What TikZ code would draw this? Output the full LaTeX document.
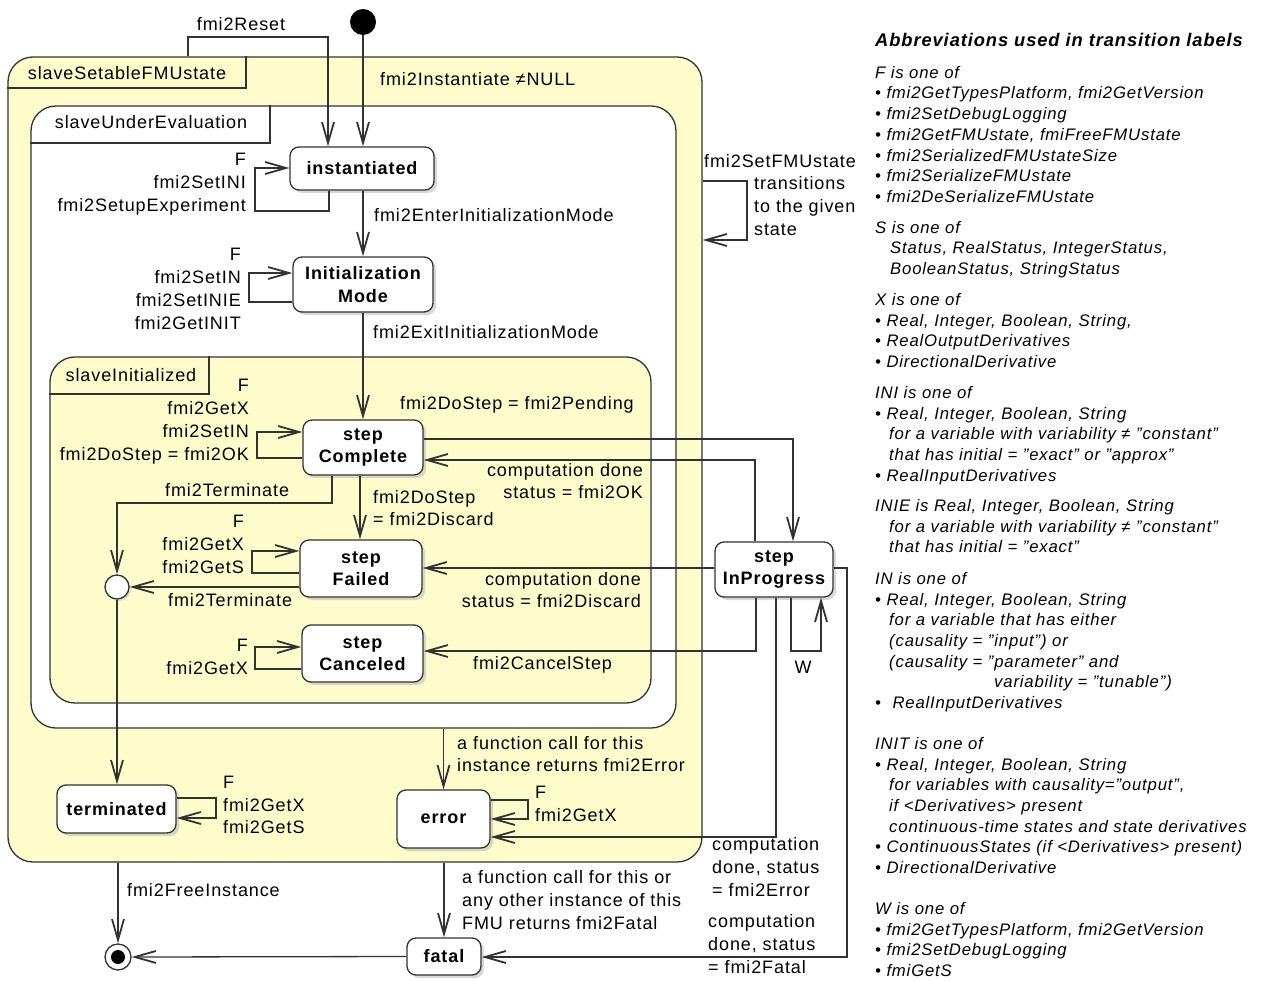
\documentclass[tikz,border=0pt]{standalone}
\usepackage{fontspec}
\setmainfont{Liberation Sans}[LetterSpace=5]
\usetikzlibrary{arrows.meta,shadows}
\definecolor{stylw}{RGB}{255,252,204}
\definecolor{lc}{RGB}{50,50,50}
\begin{document}
\begin{tikzpicture}[x=1pt,y=-1pt,
 lb/.style={font=\fontsize{18}{22.8}\selectfont, inner sep=0pt},
 st/.style={draw=lc, line width=1.3pt, rounded corners=9pt, fill=white, align=center, inner sep=0pt,
   font=\bfseries\fontsize{18}{22.5}\selectfont, drop shadow={shadow xshift=3pt, shadow yshift=-3pt, fill=black!30}},
 comp/.style={draw=lc, line width=1.3pt, rounded corners=25pt, inner sep=0pt},
 tr/.style={draw=lc, line width=1.3pt, -{Straight Barb[length=21pt,width=12pt,line width=1.8pt]}},
 cline/.style={draw=lc, line width=1.3pt},
 ab/.style={anchor=north west, align=left, inner sep=0pt, font=\itshape\fontsize{16.7}{20.7}\selectfont}
]
\useasboundingbox (0,0) rectangle (1265,981);

% composite states
\node[comp, fill=stylw, minimum width=694pt, minimum height=805pt] (sse) at (355,459.5) {};
\node[comp, fill=white, minimum width=645pt, minimum height=622pt] (sue) at (353.5,417) {};
\node[comp, fill=stylw, minimum width=601pt, minimum height=346pt] (sin) at (350.5,530) {};
\coordinate (tab1) at (246,88);
\coordinate (tab2) at (270,143);
\coordinate (tab3) at (209,394);
\draw[cline] (tab1 -| sse.west) -- (tab1) -- (tab1 |- sse.north);
\draw[cline] (tab2 -| sue.west) -- (tab2) -- (tab2 |- sue.north);
\draw[cline] (tab3 -| sin.west) -- (tab3) -- (tab3 |- sin.north);
\node[lb] (tsse) at (127,73) {slaveSetableFMUstate};
\node[lb] (tsue) at (151,122) {slaveUnderEvaluation};
\node[lb] (tsin) at (131,375) {slaveInitialized};

% simple states
\node[st, minimum width=144pt, minimum height=43pt] (inst) at (362,168.5) {instantiated};
\node[st, minimum width=140pt, minimum height=55pt] (initm) at (363,284.5) {Initialization\\Mode};
\node[st, minimum width=120pt, minimum height=55pt] (sc) at (363,447.5) {step\\Complete};
\node[st, minimum width=122pt, minimum height=57pt] (sf) at (361,568.5) {step\\Failed};
\node[st, minimum width=121pt, minimum height=57pt] (scan) at (362.5,653.5) {step\\Canceled};
\node[st, minimum width=118pt, minimum height=55pt] (sip) at (774,569.5) {step\\InProgress};
\node[st, minimum width=119pt, minimum height=48pt] (term) at (116.5,809) {terminated};
\node[st, minimum width=93pt, minimum height=58pt] (err) at (443.5,819) {error};
\node[st, minimum width=74pt, minimum height=37pt] (fatal) at (444,956.5) {fatal};

\node[circle, fill=black, minimum size=26pt, inner sep=0pt] (init) at (363,22) {};
\node[circle, draw=lc, line width=1.3pt, fill=white, minimum size=24pt, inner sep=0pt,
  drop shadow={shadow xshift=2pt, shadow yshift=-2pt, fill=black!25}] (ch) at (117,587) {};
\node[circle, draw=lc, line width=1.3pt, fill=white, minimum size=26pt, inner sep=0pt] (fin) at (118,957) {};
\fill (fin.center) circle (7pt);

% initial
\draw[tr] (init.south) -- (init.south |- inst.north);
\node[lb, anchor=west] (linit) at (380,79) {fmi2Instantiate ≠NULL};

% reset
\coordinate (r1) at (188,37); \coordinate (r2) at (328,37);
\draw[tr] (r1 |- sse.north) -- (r1) -- (r2) -- (r2 |- inst.north);
\node[lb] (lreset) at (241,24) {fmi2Reset};

% instantiated self loop
\coordinate (a1) at (329,211); \coordinate (a2) at (255,168);
\draw[tr] (a1 |- inst.south) -- (a1) -- (a1 -| a2) -- (a2) -- (a2 -| inst.west);
\node[lb, align=right, anchor=east] (linstl) at (246,184) {F\\fmi2SetINI\\fmi2SetupExperiment};

% instantiated -> initialization mode
\draw[tr] (initm.north |- inst.south) -- (initm.north);
\node[lb, anchor=west] (lenter) at (374,215) {fmi2EnterInitializationMode};

% initialization mode self loop
\coordinate (b1) at (249,302); \coordinate (b2) at (249,273);
\draw[tr] (b1 -| initm.west) -- (b1) -- (b2) -- (b2 -| initm.west);
\node[lb, align=right, anchor=east] (linitml) at (241,289) {F\\fmi2SetIN\\fmi2SetINIE\\fmi2GetINIT};

% initialization mode -> step complete
\draw[tr] (sc.north |- initm.south) -- (sc.north);
\node[lb, anchor=west] (lexit) at (373,332) {fmi2ExitInitializationMode};

% step complete self loop
\coordinate (c1) at (257,458); \coordinate (c2) at (257,432);
\draw[tr] (c1 -| sc.west) -- (c1) -- (c2) -- (c2 -| sc.west);
\node[lb, align=right, anchor=east] (lscl) at (249,421.5) {F\\fmi2GetX\\fmi2SetIN\\fmi2DoStep = fmi2OK};

% step complete -> in progress
\coordinate (d1) at (793,439);
\draw[tr] (d1 -| sc.east) -- (d1) -- (d1 |- sip.north);
\node[lb, anchor=west] (lpend) at (400,405) {fmi2DoStep = fmi2Pending};

% in progress -> step complete
\coordinate (d2) at (755,460);
\draw[tr] (d2 |- sip.north) -- (d2) -- (d2 -| sc.east);
\node[lb, align=right, anchor=east] (lok) at (643,481) {computation done\\status = fmi2OK};

% step complete -> step failed
\coordinate (e1) at (360,500);
\draw[tr] (e1 |- sc.south) -- (e1 |- sf.north);
\node[lb, align=left, anchor=west] (ldisc) at (373,508) {fmi2DoStep\\= fmi2Discard};

% step complete -> choice
\coordinate (f1) at (332,503);
\draw[tr] (f1 |- sc.south) -- (f1) -- (f1 -| ch.north) -- (ch.north);
\node[lb, anchor=west] (lterm1) at (165,490) {fmi2Terminate};

% step failed self loop
\coordinate (g1) at (252,573); \coordinate (g2) at (252,551);
\draw[tr] (g1 -| sf.west) -- (g1) -- (g2) -- (g2 -| sf.west);
\node[lb, align=right, anchor=east] (lsfl) at (244,544.5) {F\\fmi2GetX\\fmi2GetS};

% step failed -> choice
\draw[tr] (ch.east -| sf.west) -- (ch.east);
\node[lb, anchor=west] (lterm2) at (168,600) {fmi2Terminate};

% in progress -> step failed
\coordinate (h1) at (600,568);
\draw[tr] (h1 -| sip.west) -- (h1 -| sf.east);
\node[lb, align=right, anchor=east] (ldone2) at (641,590) {computation done\\status = fmi2Discard};

% step canceled self loop
\coordinate (i1) at (255,669); \coordinate (i2) at (255,647);
\draw[tr] (i1 -| scan.west) -- (i1) -- (i2) -- (i2 -| scan.west);
\node[lb, align=right, anchor=east] (lscanl) at (248,656.5) {F\\fmi2GetX};

% in progress -> step canceled
\coordinate (j1) at (756,651);
\draw[tr] (j1 |- sip.south) -- (j1) -- (j1 -| scan.east);
\node[lb, anchor=west] (lcancel) at (473,665) {fmi2CancelStep};

% W loop
\coordinate (k1) at (791,651); \coordinate (k2) at (821,651);
\draw[tr] (k1 |- sip.south) -- (k1) -- (k2) -- (k2 |- sip.south);
\node[lb] (lw) at (803,667) {W};

% in progress -> error
\coordinate (m1) at (776,837);
\draw[tr] (m1 |- sip.south) -- (m1) -- (m1 -| err.east);
\node[lb, align=left, anchor=west] (lerrd) at (712,867) {computation\\done, status\\= fmi2Error};

% in progress -> fatal
\coordinate (n1) at (847,568); \coordinate (n2) at (847,957);
\draw[tr] (n1 -| sip.east) -- (n1) -- (n2) -- (n2 -| fatal.east);
\node[lb, align=left, anchor=west] (lfatd) at (708,944) {computation\\done, status\\= fmi2Fatal};

% error self loop
\coordinate (o1) at (528,800); \coordinate (o2) at (528,819);
\draw[tr] (o1 -| err.east) -- (o1) -- (o2) -- (o2 -| err.east);
\node[lb, align=left, anchor=west] (lerrl) at (535,804) {F\\fmi2GetX};

% slaveUnderEvaluation -> error
\draw[tr] (err.north |- sue.south) -- (err.north);
\node[lb, align=left, anchor=west] (lerr) at (457,754) {a function call for this\\instance returns fmi2Error};

% slaveSetableFMUstate -> fatal
\draw[tr] (fatal.north |- sse.south) -- (fatal.north);
\node[lb, align=left, anchor=west] (lfat) at (462,900) {a function call for this or\\any other instance of this\\FMU returns fmi2Fatal};

% fatal -> final
\draw[tr] (fatal.west) -- (fin.east);

% choice -> terminated
\draw[tr] (ch.south) -- (ch.south |- term.north);

% terminated self loop
\coordinate (q1) at (216,798); \coordinate (q2) at (216,818);
\draw[tr] (q1 -| term.east) -- (q1) -- (q2) -- (q2 -| term.east);
\node[lb, align=left, anchor=west] (lterml) at (223,805) {F\\fmi2GetX\\fmi2GetS};

% slaveSetableFMUstate -> final
\draw[tr] (fin.north |- sse.south) -- (fin.north);
\node[lb, anchor=west] (lfree) at (127,890) {fmi2FreeInstance};

% set FMU state
\coordinate (s1) at (747,181); \coordinate (s2) at (747,240);
\draw[tr] (s1 -| sse.east) -- (s1) -- (s2) -- (s2 -| sse.east);
\node[lb, anchor=west] (lset) at (704,161) {fmi2SetFMUstate};
\node[lb, align=left, anchor=west] (lset2) at (754,206) {transitions\\to the given\\state};

% abbreviations
\node[anchor=west, inner sep=0pt, font=\bfseries\itshape\fontsize{18.3}{22}\selectfont] (title) at (875,40) {Abbreviations used in transition labels};
\node[ab] (gF) at (875,66) {F is one of\\
• fmi2GetTypesPlatform, fmi2GetVersion\\
• fmi2SetDebugLogging\\
• fmi2GetFMUstate, fmiFreeFMUstate\\
• fmi2SerializedFMUstateSize\\
• fmi2SerializeFMUstate\\
• fmi2DeSerializeFMUstate};
\node[ab] (gS) at (875,221) {S is one of\\
\hspace*{15pt}Status, RealStatus, IntegerStatus,\\
\hspace*{15pt}BooleanStatus, StringStatus};
\node[ab] (gX) at (875,293) {X is one of\\
• Real, Integer, Boolean, String,\\
• RealOutputDerivatives\\
• DirectionalDerivative};
\node[ab] (gINI) at (875,386) {INI is one of\\
• Real, Integer, Boolean, String\\
\hspace*{14pt}for a variable with variability ≠ "constant"\\
\hspace*{14pt}that has initial = "exact" or "approx"\\
• RealInputDerivatives};
\node[ab] (gINIE) at (875,499) {INIE is Real, Integer, Boolean, String\\
\hspace*{14pt}for a variable with variability ≠ "constant"\\
\hspace*{14pt}that has initial = "exact"};
\node[ab] (gIN) at (875,572) {IN is one of\\
• Real, Integer, Boolean, String\\
\hspace*{14pt}for a variable that has either\\
\hspace*{14pt}(causality = "input") or\\
\hspace*{14pt}(causality = "parameter" and\\
\hspace*{119pt}variability = "tunable")\\
•\hspace*{6pt} RealInputDerivatives};
\node[ab] (gINIT) at (875,737) {INIT is one of\\
• Real, Integer, Boolean, String\\
\hspace*{14pt}for variables with causality="output",\\
\hspace*{14pt}if <Derivatives> present\\
\hspace*{14pt}continuous-time states and state derivatives\\
• ContinuousStates (if <Derivatives> present)\\
• DirectionalDerivative};
\node[ab] (gW) at (875,902) {W is one of\\
• fmi2GetTypesPlatform, fmi2GetVersion\\
• fmi2SetDebugLogging\\
• fmiGetS};
\end{tikzpicture}
\end{document}
